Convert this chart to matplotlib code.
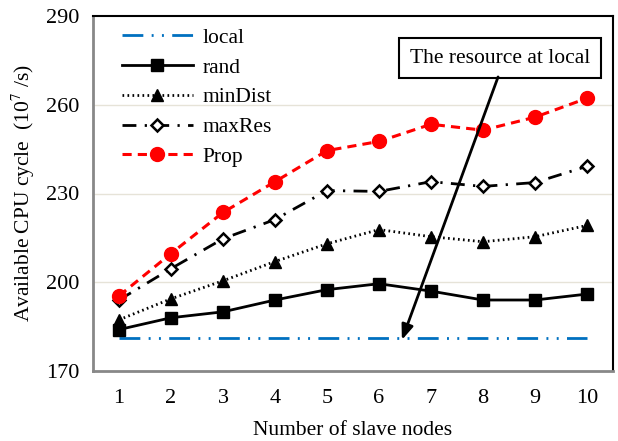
import matplotlib
matplotlib.use("Agg")
import matplotlib.pyplot as plt

plt.rcParams['font.family'] = ['Liberation Serif', 'DejaVu Serif']
plt.rcParams['mathtext.fontset'] = 'stix'

nodes = [1, 2, 3, 4, 5, 6, 7, 8, 9, 10]
local = [181, 181, 181, 181, 181, 181, 181, 181, 181, 181]
rand = [184, 188, 190, 194, 197.5, 199.5, 197, 194, 194, 196]
minDist = [187.3, 194.4, 200.5, 207, 213, 217.8, 215.4, 213.7, 215.4, 219.2]
maxRes = [194, 204.6, 214.7, 221.2, 231, 230.7, 234, 232.4, 233.7, 239.2]
prop = [195.4, 209.7, 223.6, 234, 244.5, 247.6, 253.4, 251.4, 255.8, 262.2]
yticks = [170, 200, 230, 260, 290]

fig = plt.figure(figsize=(6.18, 4.41), dpi=100)
ax = fig.add_axes([93/618, 1-371/441, 520/618, 355/441])

ax.plot(nodes, local, color='#0070C0', lw=2, linestyle=(0, (7.5, 3, 0.7, 3, 0.7, 3)), label='local')
ax.plot(nodes, rand, color='black', lw=2, marker='s', ms=8, label='rand')
ax.plot(nodes, minDist, color='black', lw=2, linestyle=(0, (0.6, 1.2)), marker='^', ms=9, label='minDist')
ax.plot(nodes, maxRes, color='black', lw=2, linestyle=(0, (5, 3, 0.8, 3)), marker='D', ms=6.5,
        mfc='white', mec='black', mew=1.8, label='maxRes')
ax.plot(nodes, prop, color='#FF0000', lw=2.2, linestyle=(0, (3, 2)), marker='o', ms=10, label='Prop')

ax.set_xlim(0.5, 10.5)
ax.set_ylim(170, 290)
ax.set_xticks(nodes)
ax.set_yticks(yticks)
for y in [200, 230, 260]:
    ax.axhline(y, color='#E6E3D8', lw=1, zorder=0)
ax.tick_params(axis='both', length=0, labelsize=16, pad=10)
ax.tick_params(axis='x', pad=13)

for s in ['left', 'bottom']:
    ax.spines[s].set_color('#888888')
    ax.spines[s].set_linewidth(2)
for s in ['top', 'right']:
    ax.spines[s].set_color('black')
    ax.spines[s].set_linewidth(1.5)

ax.set_xlabel('Number of slave nodes', fontsize=15.5, labelpad=9)
ax.set_ylabel('Available CPU cycle  (10$^7$ /s)', fontsize=15.5, labelpad=6)

ax.legend(loc='upper left', bbox_to_anchor=(0.035, 0.997), frameon=False, fontsize=15.5,
          handlelength=3.3, handletextpad=0.45, labelspacing=0.45, borderpad=0)

ax.text(8.32, 275.8, 'The resource at local', fontsize=15.5, ha='center', va='center',
        bbox=dict(boxstyle='square,pad=0.5', fc='white', ec='black', lw=1.5), zorder=5)
ax.annotate('', xy=(6.44, 180.5), xytext=(8.29, 269.4),
            arrowprops=dict(arrowstyle='-|>,head_length=0.9,head_width=0.35', color='black', lw=2,
                            shrinkA=0, shrinkB=0), zorder=6)

fig.savefig('out.png', dpi=100)
